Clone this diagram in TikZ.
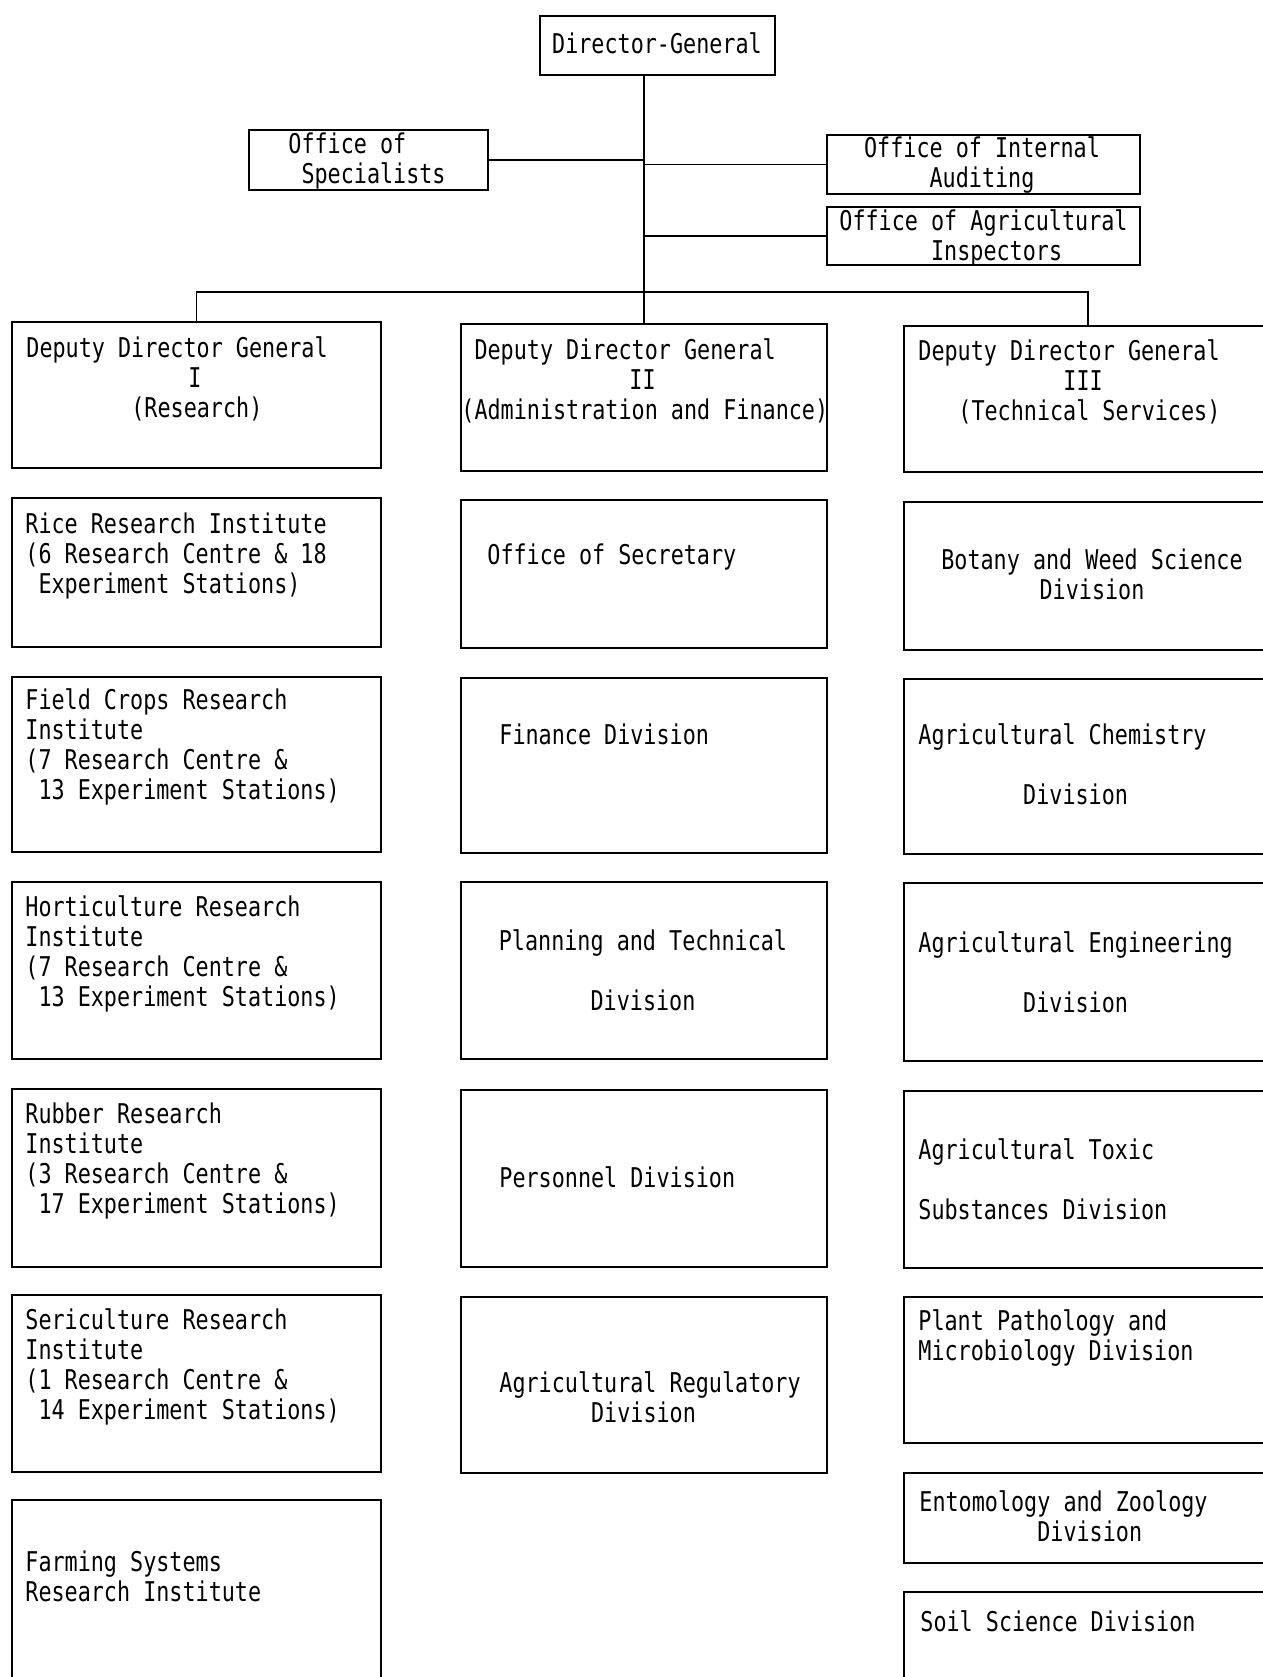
\documentclass[tikz,border=0pt]{standalone}
\usepackage{fontspec}
\newfontfamily\orgfont[FakeStretch=0.8]{DejaVu Sans Mono}
\usetikzlibrary{fit}
\tikzset{box/.style={rectangle,draw,line width=0.9pt,inner sep=0pt,outer sep=0pt},txt/.style={inner sep=0pt,font=\orgfont\fontsize{13.6}{15}\selectfont},line/.style={line width=0.9pt}}

\begin{document}
\begin{tikzpicture}[x=0.5pt,y=-0.5pt]
\useasboundingbox (0,0) rectangle (1263,1677);
\clip (0,0) rectangle (1263,1677);
% head and offices
\node[box, fit={(540,16) (775,75)}] (dg) {};
\node[box, fit={(249,130) (488,190)}] (sp) {};
\node[box, fit={(827,135) (1140,194)}] (ia) {};
\node[box, fit={(827,207) (1140,265)}] (ai) {};
\node[txt, align=center] (dgt) at (657,43) {Director-General};
\node[txt, align=left, anchor=west] (spt) at (288,161) {Office of\\\hphantom{O}Specialists};
\node[txt, align=center] (iat) at (982,165) {Office of Internal\\Auditing};
\node[txt, align=left, anchor=west] (ait) at (839,238) {Office of Agricultural\\\hphantom{OfficeO}Inspectors};
% deputies
\node[box, fit={(12,322) (381,468)}] (d1) {};
\node[box, fit={(461,324) (827,471)}] (d2) {};
\node[box, fit={(904,326) (1272,472)}] (d3) {};
\node[txt, align=left, anchor=west] (d1t) at (26,379) {Deputy Director General\\\hspace*{81pt}I\\\hspace*{52.5pt}(Research)};
\node[txt, align=left, anchor=west] (d2t) at (461,381) {\hphantom{(}Deputy Director General\\\hspace*{84pt}II\\(Administration and Finance)};
\node[txt, align=left, anchor=west] (d3t) at (918,382) {Deputy Director General\\\hspace*{72.5pt}III\\\hspace*{20pt}(Technical Services)};
% research institutes
\node[box, fit={(12,498) (381,647)}] (l1) {};
\node[box, fit={(12,677) (381,852)}] (l2) {};
\node[box, fit={(12,882) (381,1059)}] (l3) {};
\node[box, fit={(12,1089) (381,1267)}] (l4) {};
\node[box, fit={(12,1295) (381,1472)}] (l5) {};
\node[box, fit={(12,1500) (381,1700)}] (l6) {};
\node[txt, align=left, anchor=west] (l1t) at (25,556) {Rice Research Institute\\(6 Research Centre \& 18\\\hphantom{(}Experiment Stations)};
\node[txt, align=left, anchor=west] (l2t) at (25,747) {Field Crops Research\\Institute\\(7 Research Centre \&\\\hphantom{(}13 Experiment Stations)};
\node[txt, align=left, anchor=west] (l3t) at (25,954) {Horticulture Research\\Institute\\(7 Research Centre \&\\\hphantom{(}13 Experiment Stations)};
\node[txt, align=left, anchor=west] (l4t) at (25,1161) {Rubber Research\\Institute\\(3 Research Centre \&\\\hphantom{(}17 Experiment Stations)};
\node[txt, align=left, anchor=west] (l5t) at (25,1367) {Sericulture Research\\Institute\\(1 Research Centre \&\\\hphantom{(}14 Experiment Stations)};
\node[txt, align=left, anchor=west] (l6t) at (25,1576) {Farming Systems\\Research Institute};
% administration
\node[box, fit={(461,500) (827,648)}] (m1) {};
\node[box, fit={(461,678) (827,853)}] (m2) {};
\node[box, fit={(461,882) (827,1059)}] (m3) {};
\node[box, fit={(461,1090) (827,1267)}] (m4) {};
\node[box, fit={(461,1297) (827,1473)}] (m5) {};
\node[txt, anchor=west] (m1t) at (487,557) {Office of Secretary};
\node[txt, anchor=west] (m2t) at (499,734) {Finance Division};
\node[txt, align=center] (m3t) at (643,970) {Planning and Technical\\[15pt]Division};
\node[txt, anchor=west] (m4t) at (499,1177) {Personnel Division};
\node[txt, align=left, anchor=west] (m5t) at (499,1397) {Agricultural Regulatory\\\hphantom{Agricul}Division};
% technical services
\node[box, fit={(904,502) (1272,650)}] (r1) {};
\node[box, fit={(904,679) (1272,854)}] (r2) {};
\node[box, fit={(904,883) (1272,1061)}] (r3) {};
\node[box, fit={(904,1091) (1272,1268)}] (r4) {};
\node[box, fit={(904,1297) (1272,1443)}] (r5) {};
\node[box, fit={(904,1473) (1272,1563)}] (r6) {};
\node[box, fit={(904,1592) (1272,1700)}] (r7) {};
\node[txt, align=center] (r1t) at (1092,574) {Botany and Weed Science\\Division};
\node[txt, align=left, anchor=west] (r2t) at (918,764) {Agricultural Chemistry\\[15pt]\hphantom{Agricult}Division};
\node[txt, align=left, anchor=west] (r3t) at (918,972) {Agricultural Engineering\\[15pt]\hphantom{Agricult}Division};
\node[txt, align=left, anchor=west] (r4t) at (918,1179) {Agricultural Toxic\\[15pt]Substances Division};
\node[txt, align=left, anchor=west] (r5t) at (918,1338) {Plant Pathology and\\Microbiology Division};
\node[txt, align=left, anchor=west] (r6t) at (919,1516) {Entomology and Zoology\\\hphantom{Entomolog}Division};
\node[txt, anchor=west] (r7t) at (920,1621) {Soil Science Division};
% lines
\coordinate (bus) at (645,292);
\draw[line] (dg.south -| d2.north) -- (d2.north);
\draw[line] (sp.east) -- (sp.east -| d2.north);
\draw[line] (ia.west) -- (ia.west -| d2.north);
\draw[line] (ai.west) -- (ai.west -| d2.north);
\draw[line] (d1.north) -- (d1.north |- bus) -- (d3.north |- bus) -- (d3.north);
\end{tikzpicture}
\end{document}
